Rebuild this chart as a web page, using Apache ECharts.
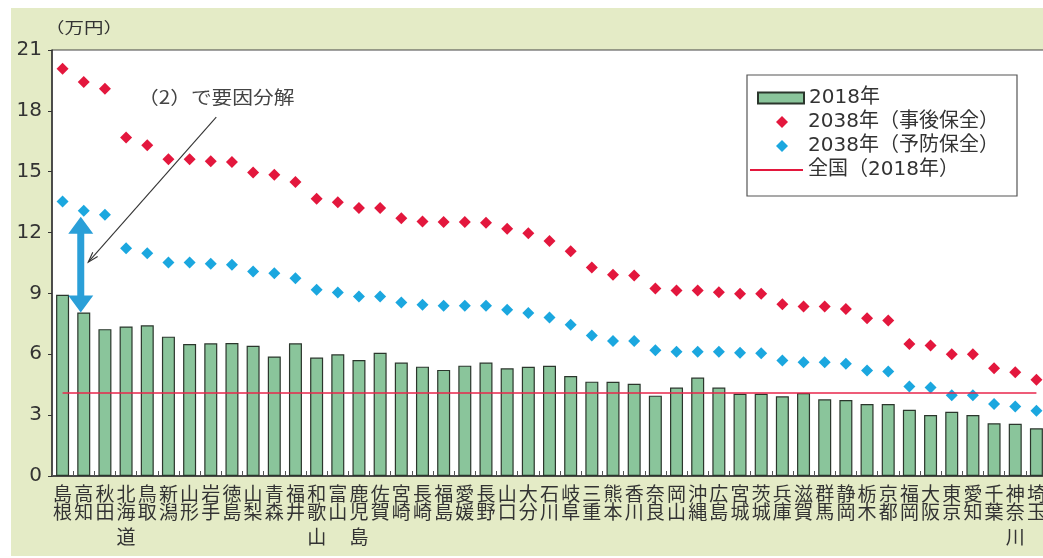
<!DOCTYPE html>
<html>
<head>
<meta charset="utf-8">
<script src="https://cdn.jsdelivr.net/npm/echarts@6/dist/echarts.min.js"></script>
<style>
  html, body { margin: 0; padding: 0; background: #ffffff; }
  #chart { width: 1043px; height: 558px; }
</style>
</head>
<body>
<div id="chart"></div>
<script>
// Per-capita maintenance & renewal cost by prefecture (万円)
const prefectures = [
  '島根', '高知', '秋田', '北海道', '鳥取', '新潟', '山形', '岩手', '徳島', '山梨',
  '青森', '福井', '和歌山', '富山', '鹿児島', '佐賀', '宮崎', '長崎', '福島', '愛媛',
  '長野', '山口', '大分', '石川', '岐阜', '三重', '熊本', '香川', '奈良', '岡山',
  '沖縄', '広島', '宮城', '茨城', '兵庫', '滋賀', '群馬', '静岡', '栃木', '京都',
  '福岡', '大阪', '東京', '愛知', '千葉', '神奈川', '埼玉'
];

// 2018 actual
const cost2018 = [
  8.93, 8.06, 7.24, 7.37, 7.43, 6.87, 6.51, 6.54, 6.56, 6.42,
  5.89, 6.54, 5.84, 6.00, 5.72, 6.07, 5.59, 5.39, 5.23, 5.44,
  5.59, 5.31, 5.38, 5.43, 4.93, 4.65, 4.64, 4.55, 3.96, 4.36,
  4.85, 4.36, 4.05, 4.05, 3.93, 4.09, 3.78, 3.75, 3.55, 3.55,
  3.26, 3.01, 3.17, 3.01, 2.60, 2.57, 2.35
];

// 2038, corrective maintenance (事後保全)
const cost2038Corrective = [
  20.08, 19.42, 19.09, 16.69, 16.30, 15.62, 15.62, 15.51, 15.48, 14.96,
  14.85, 14.49, 13.67, 13.49, 13.21, 13.21, 12.71, 12.55, 12.52, 12.52,
  12.48, 12.19, 11.97, 11.58, 11.08, 10.28, 9.92, 9.88, 9.24, 9.14,
  9.14, 9.06, 8.98, 8.98, 8.47, 8.35, 8.35, 8.23, 7.78, 7.66,
  6.51, 6.43, 6.00, 6.00, 5.31, 5.12, 4.74
];

// 2038, preventive maintenance (予防保全)
const cost2038Preventive = [
  13.53, 13.07, 12.88, 11.23, 10.98, 10.52, 10.52, 10.46, 10.41, 10.08,
  10.00, 9.75, 9.18, 9.05, 8.85, 8.85, 8.55, 8.44, 8.39, 8.39,
  8.39, 8.19, 8.03, 7.81, 7.45, 6.92, 6.66, 6.66, 6.20, 6.13,
  6.12, 6.12, 6.08, 6.05, 5.69, 5.61, 5.61, 5.53, 5.20, 5.15,
  4.41, 4.36, 3.98, 3.98, 3.55, 3.42, 3.22
];

// Nationwide level, 2018
const national2018 = 4.08;

// Value axis ticks
const yMin = 0, yMax = 21, yStep = 3;

const seriesNames = ['2018年', '2038年（事後保全）', '2038年（予防保全）', '全国（2018年）'];
const unitLabel = '（万円）';
const noteLabel = '（2）で要因分解';

const FONT = '"Noto Sans CJK JP", "Noto Sans", sans-serif';
const FONT_NUM = '"DejaVu Sans", "Noto Sans CJK JP", sans-serif';
const TEXT = '#333333';
const PANEL = '#e4ebc6';
const BAR_FILL = '#8ac59b';
const BAR_EDGE = '#2b362c';
const RED = '#e3173d';
const CYAN = '#1ba7df';
const ARROW_BLUE = '#2a9fd8';

const lineIcon = 'path://M0,0H60V2H0Z';

// Category labels are written vertically, third character set a little lower
function verticalLabel(name) {
  return name.split('').map((ch, i) => (i < 2 ? '{a|' + ch + '}' : '{b|' + ch + '}')).join('\n');
}

const chart = echarts.init(document.getElementById('chart'), null, { renderer: 'canvas' });

function legendAt(name, top, left, icon, w, h, textPad) {
  return {
    data: [name],
    orient: 'vertical',
    left: left,
    top: top,
    padding: 0,
    icon: icon,
    itemWidth: w,
    itemHeight: h,
    selectedMode: false,
    textStyle: {
      fontFamily: FONT_NUM, fontSize: 20, lineHeight: 20, color: TEXT,
      padding: [0, 0, 0, textPad || 0]
    }
  };
}

chart.setOption({
  animation: false,
  backgroundColor: 'transparent',
  textStyle: { fontFamily: FONT },
  grid: {
    left: 52, top: 50, width: 995, height: 426,
    show: true, backgroundColor: '#ffffff', borderColor: '#444444', borderWidth: 1,
    containLabel: false, outerBoundsMode: 'none'
  },
  legend: [
    legendAt(seriesNames[0], 88, 757, 'rect', 46, 11),
    legendAt(seriesNames[1], 112, 776, 'diamond', 12, 12, 15),
    legendAt(seriesNames[2], 136, 776, 'diamond', 12, 12, 15),
    legendAt(seriesNames[3], 160, 750, lineIcon, 53, 2)
  ],
  xAxis: {
    type: 'category',
    data: prefectures,
    boundaryGap: true,
    axisLine: { show: true, lineStyle: { color: '#333333', width: 1.5 } },
    axisTick: { show: true, inside: true, length: 5, lineStyle: { color: '#555555' } },
    axisLabel: {
      interval: 0,
      margin: 9,
      color: TEXT,
      fontFamily: FONT,
      formatter: verticalLabel,
      rich: {
        a: { fontFamily: FONT, fontSize: 19, lineHeight: 18, color: TEXT },
        b: { fontFamily: FONT, fontSize: 19, lineHeight: 32, color: TEXT }
      }
    },
    splitLine: { show: false }
  },
  yAxis: {
    type: 'value',
    min: yMin, max: yMax, interval: yStep,
    axisLine: { show: true, lineStyle: { color: '#333333', width: 1.5 } },
    axisTick: { show: true, inside: false, length: 4, lineStyle: { color: '#333333' } },
    axisLabel: { margin: 10, fontFamily: FONT_NUM, fontSize: 20, color: TEXT },
    splitLine: { show: false }
  },
  series: [
    {
      name: seriesNames[0],
      type: 'bar',
      data: cost2018,
      barWidth: 13,
      itemStyle: { color: BAR_FILL, borderColor: BAR_EDGE, borderWidth: 1.2 },
      z: 2
    },
    {
      name: seriesNames[1],
      type: 'scatter',
      data: cost2038Corrective,
      symbol: 'diamond',
      symbolSize: 12,
      itemStyle: { color: RED, opacity: 1 },
      z: 4
    },
    {
      name: seriesNames[2],
      type: 'scatter',
      data: cost2038Preventive,
      symbol: 'diamond',
      symbolSize: 12,
      itemStyle: { color: CYAN, opacity: 1 },
      z: 4
    },
    {
      name: seriesNames[3],
      type: 'line',
      data: [],
      symbol: 'none',
      lineStyle: { color: RED, width: 1.6 },
      itemStyle: { color: RED },
      z: 3,
      markLine: {
        silent: true,
        symbol: 'none',
        label: { show: false },
        lineStyle: { color: '#e8264b', width: 1.6, type: 'solid' },
        data: [[
          { coord: [prefectures[0], national2018] },
          { coord: [prefectures[prefectures.length - 1], national2018] }
        ]]
      }
    }
  ],
  graphic: [
    {
      id: 'panel', type: 'rect', silent: true, z: -10,
      shape: { x: 11, y: 8, width: 1032, height: 548 },
      style: { fill: PANEL }
    },
    {
      id: 'legendBox', type: 'rect', silent: true, z: 1,
      shape: { x: 747, y: 75, width: 270, height: 121 },
      style: { fill: '#ffffff', stroke: '#555555', lineWidth: 1.2 }
    },
    {
      id: 'unit', type: 'text', silent: true,
      x: 45, y: 27, scaleX: 1.3,
      style: { x: 0, y: 0, text: unitLabel, fontFamily: FONT, fontSize: 15, fill: TEXT, verticalAlign: 'middle' }
    }
  ]
});

// Annotation: gap between 2018 and 2038 (preventive) for 高知, anchored to the axes
(function drawAnnotation() {
  const idx = 1;
  const cx = chart.convertToPixel({ xAxisIndex: 0 }, prefectures[idx]) - 3;
  const yTop = chart.convertToPixel({ yAxisIndex: 0 }, cost2038Preventive[idx]) + 6;
  const yBot = chart.convertToPixel({ yAxisIndex: 0 }, cost2018[idx]);
  const hh = 17, hw = 12.5, sw = 3.5;
  const pts = [
    [cx, yTop], [cx + hw, yTop + hh], [cx + sw, yTop + hh], [cx + sw, yBot - hh],
    [cx + hw, yBot - hh], [cx, yBot], [cx - hw, yBot - hh], [cx - sw, yBot - hh],
    [cx - sw, yTop + hh], [cx - hw, yTop + hh]
  ];
  const mid = (yTop + yBot) / 2;
  const tip = [cx + 7.5, mid - 2.5];
  const start = [tip[0] + 128, tip[1] - 145];
  const ang = Math.atan2(start[1] - tip[1], start[0] - tip[0]);
  const headLen = 11, spread = 0.3;
  const h1 = [tip[0] + headLen * Math.cos(ang + spread), tip[1] + headLen * Math.sin(ang + spread)];
  const h2 = [tip[0] + headLen * Math.cos(ang - spread), tip[1] + headLen * Math.sin(ang - spread)];

  chart.setOption({
    graphic: [
      {
        id: 'gapArrow', type: 'polygon', silent: true, z: 10,
        shape: { points: pts },
        style: { fill: ARROW_BLUE }
      },
      {
        id: 'noteLine', type: 'line', silent: true, z: 10,
        shape: { x1: start[0], y1: start[1], x2: tip[0], y2: tip[1] },
        style: { stroke: '#333333', lineWidth: 1.1 }
      },
      {
        id: 'noteHead', type: 'polyline', silent: true, z: 10,
        shape: { points: [h1, tip, h2] },
        style: { stroke: '#333333', lineWidth: 1.1, fill: null }
      },
      {
        id: 'noteText', type: 'text', silent: true, z: 10,
        x: 138, y: 97, scaleX: 1.15,
        style: { x: 0, y: 0, text: noteLabel, fontFamily: FONT, fontSize: 18, fill: '#444444', verticalAlign: 'middle' }
      }
    ]
  });
})();
</script>
</body>
</html>
